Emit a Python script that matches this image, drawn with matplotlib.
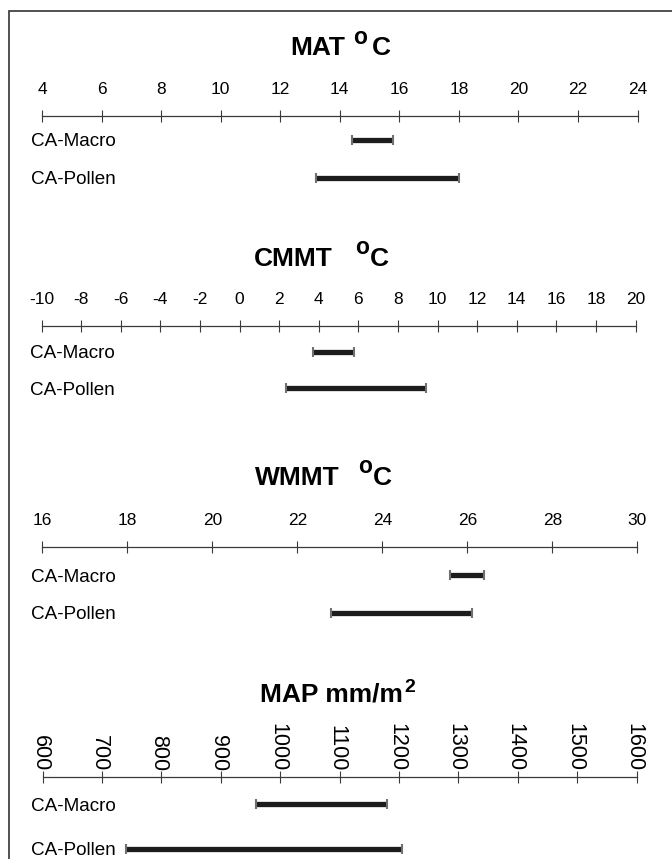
import matplotlib
matplotlib.use("Agg")
import matplotlib.pyplot as plt
from matplotlib.patches import Rectangle
from matplotlib.transforms import ScaledTranslation
import numpy as np

plt.rcParams['font.family'] = ['Liberation Sans', 'DejaVu Sans']

# ---------------- data ----------------
categories = ["CA-Macro", "CA-Pollen"]

mat_ticks = [4, 6, 8, 10, 12, 14, 16, 18, 20, 22, 24]
mat_low = [14.4, 13.2]
mat_high = [15.8, 18.0]

cmmt_ticks = [-10, -8, -6, -4, -2, 0, 2, 4, 6, 8, 10, 12, 14, 16, 18, 20]
cmmt_low = [3.7, 2.35]
cmmt_high = [5.8, 9.4]

wmmt_ticks = [16, 18, 20, 22, 24, 26, 28, 30]
wmmt_low = [25.6, 22.8]
wmmt_high = [26.4, 26.1]

map_ticks = [600, 700, 800, 900, 1000, 1100, 1200, 1300, 1400, 1500, 1600]
map_low = [960, 740]
map_high = [1180, 1205]

# title pieces: (name, superscript, unit)
titles = [("MAT", "o", "C"), ("CMMT", "o", "C"), ("WMMT", "o", "C"),
          ("MAP mm/m", "2", "")]

# ---------------- layout ----------------
W, H = 672, 859
fig = plt.figure(figsize=(W / 100, H / 100), dpi=100)

panels = [
    dict(title=titles[0], ticks=mat_ticks, low=mat_low, high=mat_high,
         axis_y=116, rows=[24, 61.7], x0=42, x1=637.5,
         tpos=(290, 353, 372), ty=55, rot=0),
    dict(title=titles[1], ticks=cmmt_ticks, low=cmmt_low, high=cmmt_high,
         axis_y=326, rows=[25.7, 62.3], x0=41.5, x1=635.5,
         tpos=(253.5, 355, 369.5), ty=266, rot=0),
    dict(title=titles[2], ticks=wmmt_ticks, low=wmmt_low, high=wmmt_high,
         axis_y=546.7, rows=[28.3, 66], x0=42.3, x1=637.3,
         tpos=(255, 358.5, 373), ty=485, rot=0),
    dict(title=titles[3], ticks=map_ticks, low=map_low, high=map_high,
         axis_y=777.3, rows=[27, 71.7], x0=42.5, x1=636.5,
         tpos=(259.5, 404, None), ty=702, rot=270),
]

HALF = 90
axc = '#3a3a3a'
barc = '#1c1c1c'
capc = '#707070'


def ftext(xpx, ypx, s, **kw):
    return fig.text(xpx / W, 1 - ypx / H, s, ha='left', va='baseline',
                    fontweight='bold', **kw)


for p in panels:
    left = p['x0'] / W
    width = (p['x1'] - p['x0']) / W
    bottom = 1 - (p['axis_y'] + HALF) / H
    height = 2 * HALF / H
    ax = fig.add_axes([left, bottom, width, height])
    ax.patch.set_visible(False)
    ax.set_xlim(p['ticks'][0], p['ticks'][-1])
    ax.set_ylim(HALF, -HALF)
    for s in ['left', 'right', 'bottom']:
        ax.spines[s].set_visible(False)
    ax.spines['top'].set_position(('data', 0))
    ax.spines['top'].set_color(axc)
    ax.spines['top'].set_linewidth(0.9)
    ax.xaxis.set_ticks_position('top')
    ax.set_xticks(p['ticks'])
    ax.set_xticklabels([str(t) for t in p['ticks']])
    if p['rot']:
        ax.tick_params(axis='x', direction='inout', length=8.2, width=0.8,
                       color=axc, pad=0.3, labelsize=15.5, labelrotation=270)
        off = ScaledTranslation(-2.5 / 100, 0, fig.dpi_scale_trans)
        for lab in ax.get_xticklabels():
            lab.set_transform(lab.get_transform() + off)
    else:
        ax.tick_params(axis='x', direction='inout', length=8.2, width=0.8,
                       color=axc, pad=9.3, labelsize=12.5)
    rows = np.array(p['rows'])
    ax.set_yticks(rows, labels=categories)
    ax.tick_params(axis='y', length=0, pad=8.1, labelsize=13.6)
    for lab in ax.get_yticklabels():
        lab.set_ha('left')

    lc = ax.hlines(rows, p['low'], p['high'], colors=barc, linewidth=3.8)
    lc.set_capstyle('butt')
    ax.vlines(p['low'], rows - 5, rows + 5, colors=capc, linewidth=1.5)
    ax.vlines(p['high'], rows - 5, rows + 5, colors=capc, linewidth=1.5)

    name, sup, unit = p['title']
    xm, xs, xu = p['tpos']
    ty = p['ty']
    ftext(xm, ty, name, fontsize=19)
    if sup == "o":
        ftext(xs, ty - 11.5, sup, fontsize=16.5)
    else:
        ftext(xs, ty - 9.5, sup, fontsize=14)
    if unit:
        ftext(xu, ty, unit, fontsize=19)

# border
top = 1 - 10.7 / H
fig.add_artist(Rectangle((9.3 / W, -0.05), (W + 20) / W, top + 0.05,
                         transform=fig.transFigure, fill=False,
                         edgecolor='#333333', linewidth=1.2))

fig.savefig("out.png", dpi=100)
